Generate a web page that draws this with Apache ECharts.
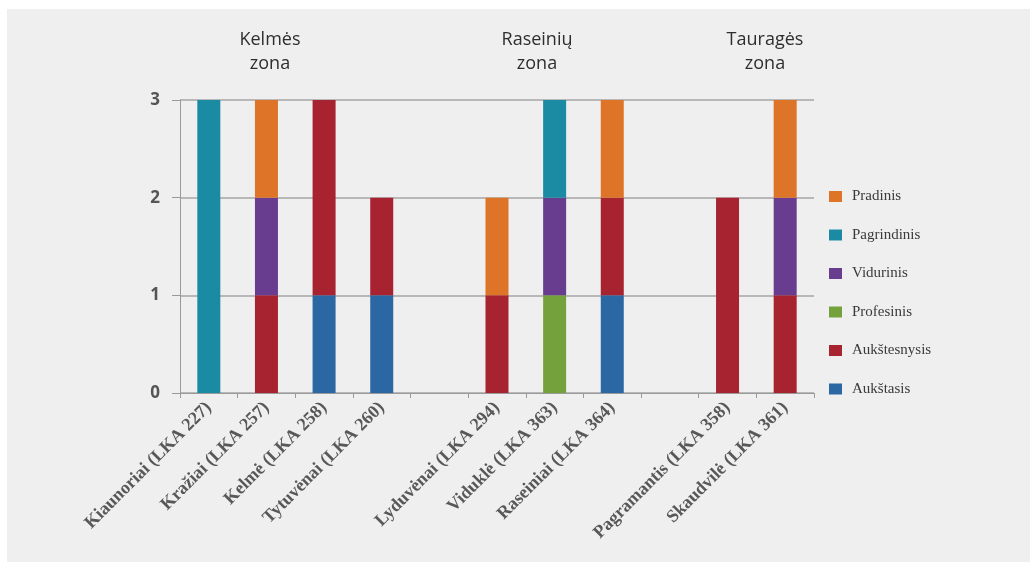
<!DOCTYPE html>
<html>
<head>
<meta charset="utf-8">
<script src="https://cdn.jsdelivr.net/npm/echarts@6/dist/echarts.min.js"></script>
<style>
  html, body { margin: 0; padding: 0; background: #ffffff; }
  #chart { position: absolute; left: 7px; top: 9px; width: 1023px; height: 553px; background: #efefef; }
</style>
</head>
<body>
<div id="chart"></div>
<script>
// Settlements (empty entries separate the zones)
const categories = [
  'Kiaunoriai (LKA 227)', 'Kražiai (LKA 257)', 'Kelmė (LKA 258)', 'Tytuvėnai (LKA 260)', '',
  'Lyduvėnai (LKA 294)', 'Viduklė (LKA 363)', 'Raseiniai (LKA 364)', '',
  'Pagramantis (LKA 358)', 'Skaudvilė (LKA 361)'
];

// Counts per education level, stacked bottom to top
const aukstasis     = [0, 0, 1, 1, 0, 0, 0, 1, 0, 0, 0];
const aukstesnysis  = [0, 1, 2, 1, 0, 1, 0, 1, 0, 2, 1];
const profesinis    = [0, 0, 0, 0, 0, 0, 1, 0, 0, 0, 0];
const vidurinis     = [0, 1, 0, 0, 0, 0, 1, 0, 0, 0, 1];
const pagrindinis   = [3, 0, 0, 0, 0, 0, 1, 0, 0, 0, 0];
const pradinis      = [0, 1, 0, 0, 0, 1, 0, 1, 0, 0, 1];

const yTicks = [0, 1, 2, 3];

const zoneLabels = ['Kelmės\nzona', 'Raseinių\nzona', 'Tauragės\nzona'];

const seriesDefs = [
  { name: 'Aukštasis',    data: aukstasis,    color: '#2b67a3' },
  { name: 'Aukštesnysis', data: aukstesnysis, color: '#a6232f' },
  { name: 'Profesinis',   data: profesinis,   color: '#74a13c' },
  { name: 'Vidurinis',    data: vidurinis,    color: '#683d8f' },
  { name: 'Pagrindinis',  data: pagrindinis,  color: '#1a8ba2' },
  { name: 'Pradinis',     data: pradinis,     color: '#de7427' }
];

const chart = echarts.init(document.getElementById('chart'), null, { renderer: 'canvas' });

// Zone captions above the bars
const zoneText = (text, x) => ({
  type: 'text',
  x: x,
  y: 19,
  style: {
    text: text,
    fill: '#2e2e2e',
    font: '18px "Open Sans", "DejaVu Sans", sans-serif',
    align: 'center',
    textAlign: 'center',
    verticalAlign: 'top',
    textVerticalAlign: 'top',
    lineHeight: 24
  }
});

chart.setOption({
  backgroundColor: '#efefef',
  animation: false,
  grid: { left: 173, right: 216, top: 91, bottom: 169, containLabel: false },
  legend: {
    orient: 'vertical',
    left: 817,
    top: 175,
    itemWidth: 13,
    itemHeight: 11,
    itemGap: 23.5,
    icon: 'rect',
    data: seriesDefs.map(s => s.name).reverse(),
    textStyle: { fontFamily: '"Liberation Serif", "DejaVu Serif", serif', fontSize: 15, color: '#3a3a3a', padding: [0, 0, 0, 5] }
  },
  graphic: [
    zoneText(zoneLabels[0], 263),
    zoneText(zoneLabels[1], 530),
    zoneText(zoneLabels[2], 758)
  ],
  xAxis: {
    type: 'category',
    data: categories,
    axisLine: { show: true, lineStyle: { color: '#9a9a9a', width: 1 } },
    axisTick: { show: true, interval: 0, length: 5, lineStyle: { color: '#9a9a9a' } },
    axisLabel: {
      interval: 0,
      rotate: 45,
      margin: 12,
      fontFamily: '"Liberation Serif", "DejaVu Serif", serif',
      fontSize: 18,
      fontWeight: 'bold',
      color: '#585858'
    }
  },
  yAxis: {
    type: 'value',
    min: yTicks[0],
    max: yTicks[yTicks.length - 1],
    interval: 1,
    axisLine: { show: true, lineStyle: { color: '#9a9a9a' } },
    axisTick: { show: true, length: 8, inside: false, lineStyle: { color: '#9a9a9a' } },
    splitLine: { show: true, lineStyle: { color: '#a6a6a6', width: 1.5 } },
    axisLabel: {
      margin: 20,
      fontFamily: '"Open Sans", "DejaVu Sans", sans-serif',
      fontSize: 17,
      fontWeight: 'bold',
      color: '#555555'
    }
  },
  series: seriesDefs.map(s => ({
    name: s.name,
    type: 'bar',
    stack: 'total',
    barWidth: 23,
    data: s.data.map(v => (v === 0 ? null : v)),
    itemStyle: { color: s.color }
  }))
});
</script>
</body>
</html>
